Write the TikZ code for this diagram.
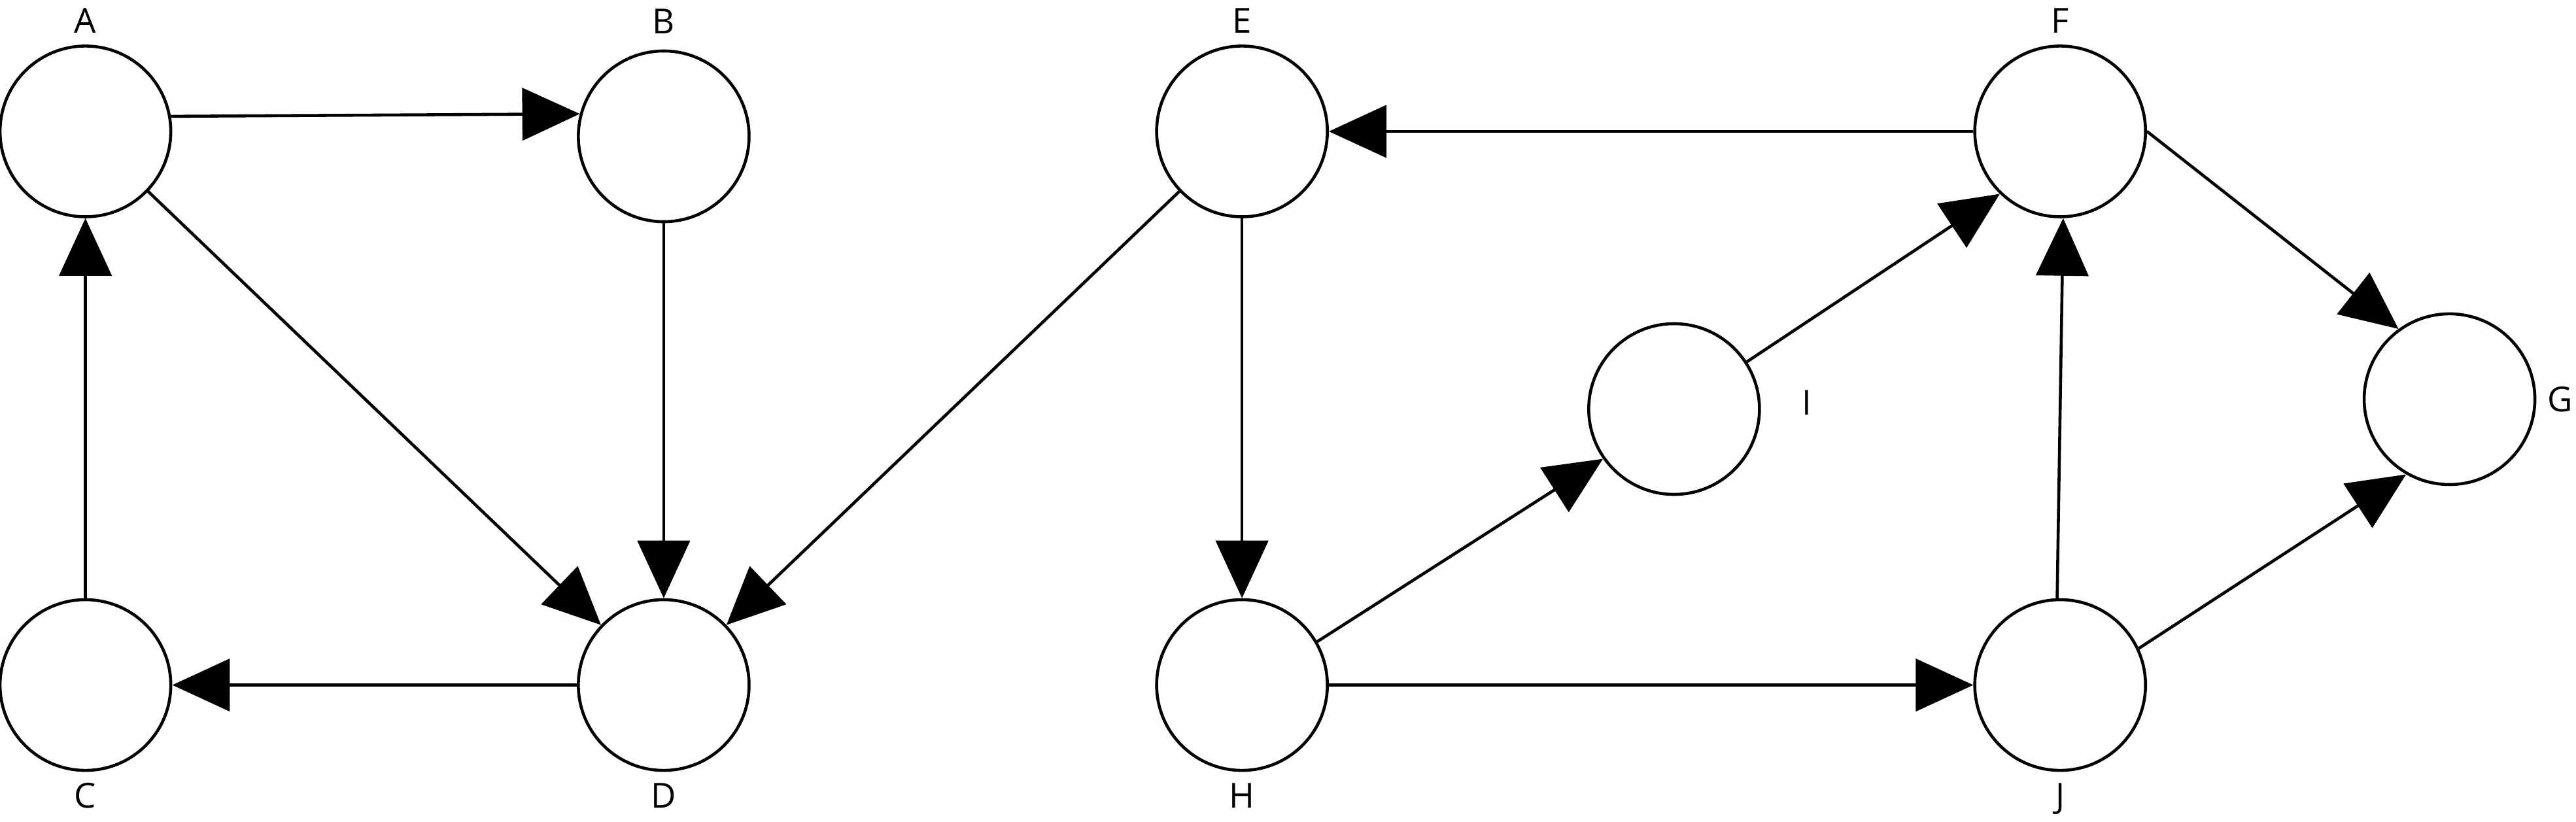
\documentclass[tikz,border=0pt]{standalone}
\usepackage{fontspec}
\setmainfont{Open Sans}
\usetikzlibrary{arrows.meta}

\begin{document}
\begin{tikzpicture}[x=0.02512cm, y=-0.02512cm,
    vertex/.style={draw, circle, line width=1.3pt, minimum size=2.61cm, inner sep=0pt},
    edge/.style={line width=1.3pt, -{Triangle[length=0.88cm, width=0.8cm]}},
    font=\fontsize{15}{18}\selectfont, label distance=0.05cm]
    \useasboundingbox (0,0) rectangle (1568,500);

    \node[vertex, label=above:A] (A) at (52,80) {};
    \node[vertex, label={[label distance=0.12cm]above:B}] (B) at (404,83) {};
    \node[vertex, label=below:C] (C) at (52,417) {};
    \node[vertex, label=below:D] (D) at (404,417) {};
    \node[vertex, label=above:E] (E) at (756,80) {};
    \node[vertex, label=above:F] (F) at (1254,80) {};
    \node[vertex, label=right:G] (G) at (1491,243) {};
    \node[vertex, label=below:H] (H) at (756,417) {};
    \node[vertex, label={[label distance=0.5cm, yshift=0.1cm]right:I}] (I) at (1019,249) {};
    \node[vertex, label=below:J] (J) at (1254,417) {};

    \draw[edge] (A.10) -- (B.165);
    \draw[edge] (A) -- (D);
    \draw[edge] (B) -- (D);
    \draw[edge] (D) -- (C);
    \draw[edge] (C) -- (A);
    \draw[edge] (E) -- (D);
    \draw[edge] (E) -- (H);
    \draw[edge] (F) -- (E);
    \draw[edge] (F.east) -- (G.126);
    \draw[edge] (I.33) -- (F.226);
    \draw[edge] (H.30) -- (I.215);
    \draw[edge] (H) -- (J);
    \draw[edge] (J.92) -- (F.272);
    \draw[edge] (J.25) -- (G.240);
\end{tikzpicture}
\end{document}
